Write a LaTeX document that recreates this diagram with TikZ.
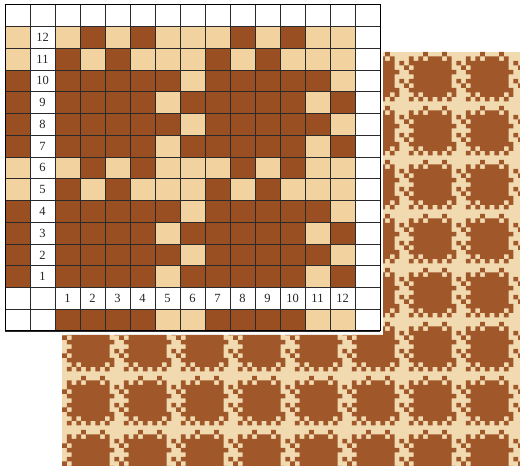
\documentclass[tikz,border=0pt]{standalone}
\usepackage{fontspec}
\setmainfont{Liberation Serif}
\definecolor{draftdark}{HTML}{9A4F22}
\definecolor{draftlight}{HTML}{F2D3A0}
\definecolor{fabdark}{HTML}{A0582B}
\definecolor{fablight}{HTML}{F1DAB0}
\definecolor{gridgray}{HTML}{2A2A2A}
\begin{document}
\begin{tikzpicture}[x=1pt, y=1pt,
  dk/.style={fill=draftdark},
  lt/.style={fill=draftlight},
  gridline/.style={draw=gridgray, line width=0.9pt},
  num/.style={font=\fontsize{12.5}{14}\selectfont, text=black!85, inner sep=0pt}
]
  \useasboundingbox (0,0) rectangle (520,466);

  % fabric simulation, partly hidden behind the draft
  \begin{scope}
    \clip (383,414) -- (520,414) -- (520,0) -- (62,0) -- (62,131) -- (383,131) -- cycle;
    \fill[fablight] (62,0) rectangle (520,414);
    \foreach \i in {0,...,8}
      \foreach \j in {0,...,7}
        \fill[fabdark, shift={(62+57*\i,414-54*\j)}]
          \foreach \r/\cs in {0/{4,8}, 1/{1,3,5,6,7,9}, 2/{1,2,3,4,5,6,7,8,9,11},
                              3/{0,2,3,4,5,6,7,8,9}, 4/{1,2,3,4,5,6,7,8,9,10},
                              5/{2,3,4,5,6,7,8,9}, 6/{1,2,3,4,5,6,7,8,9,11},
                              7/{0,2,3,4,5,6,7,8,9}, 8/{1,2,3,4,5,6,7,8,9,10},
                              9/{2,4,5,6,7,8,10}, 10/{1,3,5,7,9}}
            {\foreach \c in \cs {(4.75*\c,-4.5*\r) rectangle ++(4.75,-4.5)}};
  \end{scope}

  % draft: weft colours, drawdown, warp colours
  \begin{scope}[shift={(5,135)}, x=25pt, y=21.75pt]
    \fill[white] (0,0) rectangle (15,15);
    \fill[lt] (2,2) rectangle (14,14);
    \foreach \n/\cs in {12/{2,4,8,10}, 11/{1,3,7,9},
                        10/{1,2,3,4,5,7,8,9,10,11}, 9/{1,2,3,4,6,7,8,9,10,12},
                        8/{1,2,3,4,5,7,8,9,10,11}, 7/{1,2,3,4,6,7,8,9,10,12},
                        6/{2,4,8,10}, 5/{1,3,7,9},
                        4/{1,2,3,4,5,7,8,9,10,11}, 3/{1,2,3,4,6,7,8,9,10,12},
                        2/{1,2,3,4,5,7,8,9,10,11}, 1/{1,2,3,4,6,7,8,9,10,12}}
      \foreach \c in \cs
        \fill[dk] (\c+1,\n+1) rectangle ++(1,1);

    \foreach \n in {5,6,11,12}
      \fill[lt] (0,\n+1) rectangle ++(1,1);
    \foreach \n in {1,2,3,4,7,8,9,10}
      \fill[dk] (0,\n+1) rectangle ++(1,1);
    \foreach \c in {5,6,11,12}
      \fill[lt] (\c+1,0) rectangle ++(1,1);
    \foreach \c in {1,2,3,4,7,8,9,10}
      \fill[dk] (\c+1,0) rectangle ++(1,1);

    \draw[gridline] (0,0) grid[step=1] (15,15);
    \draw[draw=black, line width=1pt] (0,0) rectangle (15,15);

    % thread numbers
    \foreach \n in {1,...,12}
      \node[num] (w\n) at (1.5,\n+1.5) {\n};
    \foreach \c in {1,...,12}
      \node[num] (k\c) at (\c+1.5,1.5) {\c};
  \end{scope}
\end{tikzpicture}
\end{document}
